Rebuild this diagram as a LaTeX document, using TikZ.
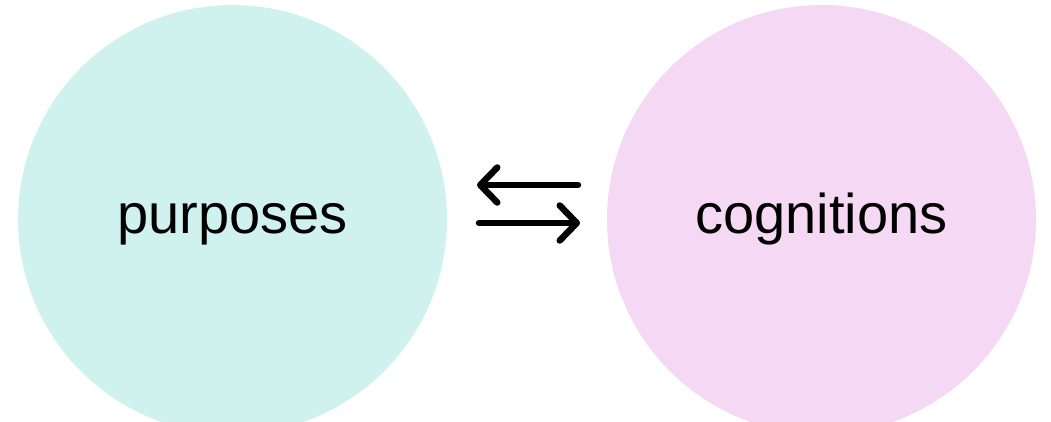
\documentclass[tikz,border=0pt]{standalone}
\usepackage{fontspec}
\setmainfont{Liberation Sans}
\usetikzlibrary{arrows.meta}
\definecolor{mint}{RGB}{208,242,238}
\definecolor{orchid}{RGB}{245,216,244}
\tikzset{
  blob/.style={circle, minimum size=429pt, inner sep=0pt, draw=none},
  word/.style={anchor=base, font=\fontsize{56}{60}\selectfont, text=black},
  flow/.style={line width=6.5pt, line cap=round,
    -{Straight Barb[length=17pt, width=35pt, line cap=round, line join=round]}}
}
\begin{document}
\begin{tikzpicture}[x=1pt, y=-1pt]
  \useasboundingbox (0,0) rectangle (1051,421);
  \node[blob, fill=mint]   (pur) at (232.5,219.5) {};
  \node[blob, fill=orchid] (cog) at (821.5,219.5) {};
  \node[word] (purtxt) at ([yshift=-14pt]pur.center) {purposes};
  \node[word] (cogtxt) at ([yshift=-14pt]cog.center) {cognitions};
  % exchange arrows between the two circles
  \coordinate (topR) at (578,185);
  \coordinate (topL) at (477,185);
  \coordinate (botL) at (479,223);
  \coordinate (botR) at (580,223);
  \draw[flow] (topR) -- (topL);
  \draw[flow] (botL) -- (botR);
\end{tikzpicture}
\end{document}
